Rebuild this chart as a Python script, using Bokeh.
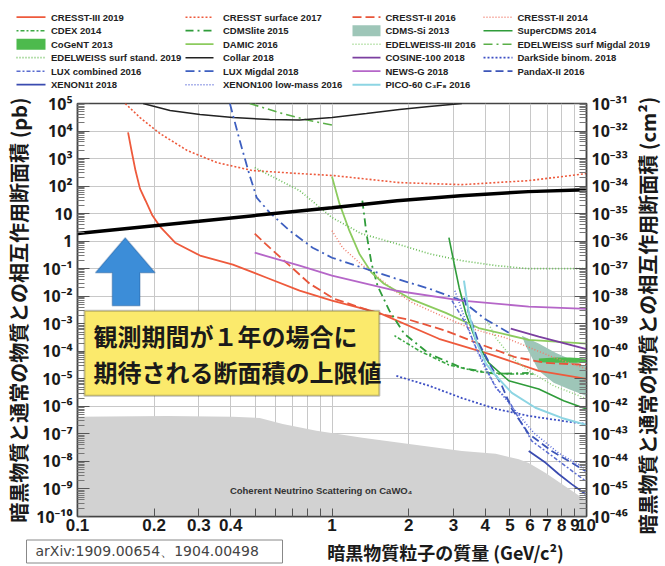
import math
from bokeh.plotting import figure
from bokeh.models import (Range1d, LogAxis, LogScale, FixedTicker, CustomJSTickFormatter,
                          Label, BoxAnnotation, PolyAnnotation)
from bokeh.layouts import column, row
from bokeh.core.properties import value
from bokeh.embed import file_html
from bokeh.resources import INLINE

# ------------------------------------------------------------------ data (mass GeV, cross section pb)
cresst3_2019_m = [0.158, 0.163, 0.169, 0.176, 0.185, 0.197, 0.211, 0.242, 0.303, 0.408, 0.554, 0.746, 1.0, 1.53, 2.63, 4.13, 6.49, 10.0]
cresst3_2019_s = [9.0e3, 1.96e3, 366, 81, 30, 8.5, 3.4, 0.88, 0.30, 0.14, 0.047, 0.016, 6.9e-3, 2.5e-3, 2.85e-4, 8.1e-5, 1.95e-5, 1.0e-5]
cresst_surf_2017_m = [0.154, 0.176, 0.211, 0.270, 0.353, 0.488, 0.746, 1.02, 1.84, 3.24, 5.93, 10.0]
cresst_surf_2017_s = [1e5, 3.1e4, 8.1e3, 1.96e3, 716, 366, 285, 240, 134, 113, 158, 285]
cresst2_2016_m = [0.497, 0.569, 0.682, 0.817, 1.02, 1.53, 2.01, 2.8, 3.77, 5.2, 6.9, 10.0]
cresst2_2016_s = [1.87, 0.58, 0.129, 0.0285, 8.1e-3, 2.3e-3, 1.4e-3, 5.6e-4, 1.9e-4, 6.3e-5, 3.8e-5, 3.2e-5]
cresst2_2014_m = [1.0, 1.1, 1.28, 1.49, 1.76, 2.07, 2.8, 3.54, 4.8, 7.5, 10.0]
cresst2_2014_s = [2.4, 0.58, 0.166, 0.056, 0.0158, 5.8e-3, 1.65e-3, 6.6e-4, 3.1e-4, 5.8e-5, 2.3e-5]
cdex_2014_m = [1.76, 2.2, 2.88, 3.78, 4.95, 6.2]
cdex_2014_s = [3.7e-4, 1.05e-4, 3.2e-5, 1.8e-5, 1.5e-5, 1.5e-5]
cdmslite_2015_m = [1.316, 1.366, 1.43, 1.51, 1.68, 1.92, 2.41, 3.24, 4.4, 5.93]
cdmslite_2015_s = [29.7, 1.9, 0.152, 0.024, 3.0e-3, 4.4e-4, 8.1e-5, 2.5e-5, 1.5e-5, 1.65e-5]
cogent_2013_m = [6.5, 7.5, 8.6, 10.0, 10.0, 8.6, 7.5, 6.5]
cogent_2013_s = [5.5e-5, 6.0e-5, 6.0e-5, 5.5e-5, 3.8e-5, 3.8e-5, 3.8e-5, 4.0e-5]
damic_2016_m = [1.0, 1.07, 1.17, 1.28, 1.43, 1.6, 2.07, 2.8, 3.77, 5.93, 10.0]
damic_2016_s = [221, 23, 2.4, 0.35, 0.072, 0.0285, 7.5e-3, 2.5e-3, 7e-4, 2.6e-4, 1.9e-4]
edw_surf_std_2019_m = [0.497, 0.746, 1.0, 1.3, 1.79, 2.41, 3.24, 4.4, 5.93, 10.0]
edw_surf_std_2019_s = [471, 68.6, 7.2, 1.9, 0.81, 0.35, 0.195, 0.13, 0.1, 0.1]
collar_2018_m = [0.181, 0.231, 0.303, 0.408, 0.569, 0.746, 1.0, 1.365, 1.84, 2.41, 3.24]
collar_2018_s = [1e5, 5.56e4, 4.0e4, 3.1e4, 2.6e4, 2.5e4, 3.1e4, 4.3e4, 6.0e4, 7.8e4, 1e5]
lux_comb_2016_m = [2.96, 3.36, 3.68, 4.03, 4.4, 4.95, 6.09, 7.77, 9.91]
lux_comb_2016_s = [6.9e-3, 1e-3, 1.35e-4, 2.5e-5, 4.7e-6, 1.6e-6, 5.6e-8, 1.05e-8, 1.95e-9]
lux_migdal_2018_m = [0.397, 0.434, 0.475, 0.506, 0.569, 0.682, 0.839, 1.0, 1.316, 1.79, 2.41, 3.24, 3.99, 4.95]
lux_migdal_2018_s = [1e5, 4.5e3, 240, 38, 10.9, 2.4, 0.58, 0.25, 0.109, 0.043, 0.0188, 6.9e-3, 1.5e-3, 4.7e-4]
xenon1t_2018_m = [5.93, 6.91, 7.77, 8.74, 9.91]
xenon1t_2018_s = [2.4e-8, 8.9e-9, 3.5e-9, 1.5e-9, 6.6e-10]
cdms_si_2013_m = [5.57, 6.49, 7.56, 8.9, 10.0, 10.0, 8.5, 7.43, 6.49, 5.77]
cdms_si_2013_s = [3.7e-4, 1.9e-4, 8.8e-5, 4.5e-5, 2.7e-5, 2.4e-6, 4.3e-6, 7.2e-6, 1.95e-5, 1.6e-4]
edw3_2016_m = [4.03, 4.4, 5.09, 5.93, 7.43, 10.0]
edw3_2016_s = [1.5e-3, 3.1e-4, 5.8e-5, 1.95e-5, 5.6e-6, 1.9e-6]
cosine_2018_m = [5.04, 6.49, 8.13, 10.0]
cosine_2018_s = [6.6e-4, 3.4e-4, 2.0e-4, 1.2e-4]
newsg_2018_m = [0.497, 0.746, 1.0, 1.79, 3.24, 5.93, 10.0]
newsg_2018_s = [0.38, 0.129, 0.056, 0.0158, 6.9e-3, 4.2e-3, 3.5e-3]
pico60_2016_m = [3.30, 3.45, 3.68, 4.03, 4.4, 5.09, 6.3, 8.0, 10.0]
pico60_2016_s = [0.0366, 2.3e-3, 2.4e-4, 3.5e-5, 1.3e-5, 3.1e-6, 8.9e-7, 3.8e-7, 2.1e-7]
supercdms_2014_m = [2.88, 3.02, 3.16, 3.36, 3.68, 4.13, 4.95, 6.49, 8.13, 10.0]
supercdms_2014_s = [1.34, 0.152, 0.0204, 2.3e-3, 2.4e-4, 3.8e-5, 8.5e-6, 4.3e-6, 1.6e-6, 8.1e-7]
edw_migdal_2019_m = [0.475, 0.64, 0.817, 1.02]
edw_migdal_2019_s = [1e5, 4.3e4, 2.4e4, 1.6e4]
darkside_2018_m = [1.79, 2.41, 3.24, 4.4, 5.93, 8.0, 10.0]
darkside_2018_s = [1.28e-5, 5.6e-6, 2.0e-6, 8.1e-7, 4.5e-7, 3.0e-7, 2.3e-7]
pandax_2016_m = [3.30, 3.52, 3.78, 4.25, 4.65, 5.09, 5.93, 7.3, 9.91]
pandax_2016_s = [8.8e-3, 1.3e-3, 1.9e-4, 2.5e-5, 5.6e-6, 8.1e-7, 1e-7, 2.4e-8, 4.5e-9]
xenon100_lm_2016_m = [3.04, 3.33, 3.64, 4.03, 4.53, 5.18, 6.2, 7.77, 10.0]
xenon100_lm_2016_s = [0.0158, 1.5e-3, 1.6e-4, 1.95e-5, 3.6e-6, 8.1e-7, 1.1e-7, 2.0e-8, 5.3e-9]
nu_floor_m = [0.1, 0.225, 0.408, 0.52, 0.64, 0.869, 1.316, 2.01, 3.24, 4.4, 5.42, 5.93, 6.91, 8.0, 10.0]
nu_floor_s = [4.2e-7, 4.5e-7, 4.2e-7, 3.8e-7, 2.3e-7, 1.3e-7, 7.2e-8, 4.3e-8, 2.4e-8, 1.9e-8, 1.2e-8, 8.8e-9, 3.8e-9, 1.5e-9, 3.7e-10]
expected_1yr_m = [0.1, 0.3, 1.0, 1.8, 3.2, 5.9, 10.0]
expected_1yr_s = [1.9, 5.3, 16.5, 29.5, 45, 63, 74]

x_ticks = [0.1, 0.2, 0.3, 0.4, 0.5, 0.6, 0.7, 0.8, 0.9, 1, 2, 3, 4, 5, 6, 7, 8, 9, 10]
y_decades = [10.0 ** k for k in range(-10, 6)]
y_minor = [m * 10.0 ** k for k in range(-10, 5) for m in range(2, 10)]
cm2_decades = [10.0 ** k for k in range(-46, -30)]
cm2_minor = [m * 10.0 ** k for k in range(-46, -31) for m in range(2, 10)]

# ------------------------------------------------------------------ styles  (name, kind, m, s, color, dash, width)
entries = [
    ("CRESST-III 2019", "line", cresst3_2019_m, cresst3_2019_s, "#EE5A3C", "solid", 1.8),
    ("CRESST surface 2017", "line", cresst_surf_2017_m, cresst_surf_2017_s, "#EE5A3C", "2 2", 1.6),
    ("CRESST-II 2016", "line", cresst2_2016_m, cresst2_2016_s, "#E8553A", "9 4", 1.8),
    ("CRESST-II 2014", "line", cresst2_2014_m, cresst2_2014_s, "#F07C6C", "1 2", 1.5),
    ("CDEX 2014", "line", cdex_2014_m, cdex_2014_s, "#3DAA45", "2 2 4 2", 1.6),
    ("CDMSlite 2015", "line", cdmslite_2015_m, cdmslite_2015_s, "#2F9C3A", "8 4 2 4", 1.8),
    ("CDMS-Si 2013", "band", cdms_si_2013_m, cdms_si_2013_s, "#9EC6B8", None, 0),
    ("SuperCDMS 2014", "line", supercdms_2014_m, supercdms_2014_s, "#2F9C3A", "solid", 1.6),
    ("CoGeNT 2013", "band", cogent_2013_m, cogent_2013_s, "#4DBA4D", None, 0),
    ("DAMIC 2016", "line", damic_2016_m, damic_2016_s, "#8CCB5E", "solid", 1.8),
    ("EDELWEISS-III 2016", "line", edw3_2016_m, edw3_2016_s, "#8FD07A", "1 2", 1.5),
    ("EDELWEISS surf Migdal 2019", "line", edw_migdal_2019_m, edw_migdal_2019_s, "#5AAF48", "9 4 2 4", 1.6),
    ("EDELWEISS surf stand. 2019", "line", edw_surf_std_2019_m, edw_surf_std_2019_s, "#6DBE5B", "1 2", 1.7),
    ("Collar 2018", "line", collar_2018_m, collar_2018_s, "#222222", "solid", 1.5),
    ("COSINE-100 2018", "line", cosine_2018_m, cosine_2018_s, "#7B3FA0", "solid", 1.8),
    ("DarkSide binom. 2018", "line", darkside_2018_m, darkside_2018_s, "#3D4FC4", "2 2", 1.8),
    ("LUX combined 2016", "line", lux_comb_2016_m, lux_comb_2016_s, "#5A6CD0", "4 2 2 2", 1.5),
    ("LUX Migdal 2018", "line", lux_migdal_2018_m, lux_migdal_2018_s, "#3D5FC0", "9 4 2 4", 1.8),
    ("NEWS-G 2018", "line", newsg_2018_m, newsg_2018_s, "#B566C8", "solid", 1.8),
    ("PandaX-II 2016", "line", pandax_2016_m, pandax_2016_s, "#3D55B8", "8 4", 1.8),
    ("XENON1t 2018", "line", xenon1t_2018_m, xenon1t_2018_s, "#3A4BB0", "solid", 1.8),
    ("XENON100 low-mass 2016", "line", xenon100_lm_2016_m, xenon100_lm_2016_s, "#5A6AD8", "1 2", 1.6),
    ("PICO-60 C\u2083F\u2088 2016", "line", pico60_2016_m, pico60_2016_s, "#8DD5E3", "solid", 2.0),
]

FONT = "Liberation Sans"
JP = "Noto Sans CJK JP"
W = 664
LEG_H = 92          # legend strip
MAIN_W = 630        # main figure width (right title strip follows)
MAIN_H = 446        # 11 + 413 + 22
RS_W = W - MAIN_W   # right title strip
BOT_H = 27          # bottom strip


def no_align(fig):
    try:
        fig.frame_align = False
    except Exception:
        pass


def strip(w, h):
    f = figure(frame_width=w, frame_height=h, x_range=Range1d(0, w), y_range=Range1d(h, 0),
               output_backend="svg", toolbar_location=None, title=None,
               x_axis_location=None, y_axis_location=None, min_border=0)
    f.grid.visible = False
    f.outline_line_color = None
    no_align(f)
    return f


# ------------------------------------------------------------------ legend panel (top strip)
lg = strip(W, LEG_H)
col_sw0 = [16, 185, 352, 483]
col_sw1 = [45, 213, 380, 512]
col_txt = [50.5, 222.5, 385, 517]
row_y0, row_dy = 16.7, 13.5

tx, ty, tt = [], [], []
for i, (name, kind, m, s, color, dash, w) in enumerate(entries):
    r, c = divmod(i, 4)
    y = row_y0 + r * row_dy
    if kind == "band":
        lg.quad(left=col_sw0[c], right=col_sw1[c], top=y - 5.5, bottom=y + 5.5, fill_color=color, line_color=None)
    else:
        lg.line([col_sw0[c], col_sw1[c]], [y, y], line_color=color, line_dash=dash, line_width=w)
    tx.append(col_txt[c]); ty.append(y); tt.append(name)
lg.text(x=tx, y=ty, text=tt, text_font=value(FONT), text_font_style="bold",
        text_font_size="9.5px", text_baseline="middle", text_color="#222222")

# ------------------------------------------------------------------ main plot
p = figure(width=MAIN_W, height=MAIN_H, x_axis_type="log", y_axis_type="log",
           x_range=Range1d(0.1, 10), y_range=Range1d(1e-10, 1e5),
           output_backend="svg", toolbar_location=None, title=None,
           min_border_left=77, min_border_right=MAIN_W - 77 - 511, min_border_top=11, min_border_bottom=22)
p.background_fill_color = "white"
p.outline_line_color = "#444444"
p.outline_line_width = 1.5
no_align(p)

p.xgrid.ticker = FixedTicker(ticks=x_ticks)
p.ygrid.ticker = FixedTicker(ticks=y_decades)
p.grid.grid_line_color = "#C8C8C8"
p.grid.grid_line_width = 1

# coherent neutrino scattering floor
p.varea(x=nu_floor_m, y1=[1e-10] * len(nu_floor_m), y2=nu_floor_s, fill_color="#D2D2D2")

for name, kind, m, s, color, dash, w in entries:
    if kind == "band":
        p.patch(m, s, fill_color=color, line_color=None)
for name, kind, m, s, color, dash, w in entries:
    if kind == "line":
        p.line(m, s, line_color=color, line_dash=dash, line_width=w)

p.line(expected_1yr_m, expected_1yr_s, line_color="black", line_width=3.5)

sup_js = """
const e = Math.round(Math.log10(tick));
if (e === 0) { return "1"; }
if (e === 1) { return "10"; }
const sup = {"-": "⁻", "0": "⁰", "1": "¹", "2": "²", "3": "³", "4": "⁴", "5": "⁵", "6": "⁶", "7": "⁷", "8": "⁸", "9": "⁹"};
return "10" + String(e).split("").map(function (c) { return sup[c]; }).join("");
"""


def style_axis(ax):
    ax.axis_line_color = "#444444"
    ax.axis_line_width = 1.5
    ax.major_tick_in = 12
    ax.major_tick_out = 0
    ax.minor_tick_in = 7
    ax.minor_tick_out = 0
    ax.major_tick_line_color = "#555555"
    ax.minor_tick_line_color = "#777777"
    ax.major_label_text_font_style = "bold"
    ax.major_label_text_color = "#1a1a1a"
    ax.axis_label_text_font = JP
    ax.axis_label_text_font_style = "bold"
    ax.axis_label_text_font_size = "20px"
    ax.axis_label_text_color = "#1a1a1a"
    ax.axis_label_standoff = 0


xa = p.xaxis[0]
xa.ticker = FixedTicker(ticks=x_ticks)
xa.formatter = CustomJSTickFormatter(code="""
if (tick > 0.45 && tick < 0.95) { return ""; }
return String(Number(tick.toPrecision(2)));
""")
style_axis(xa)
xa.major_tick_in = 8
xa.major_label_text_font = FONT
xa.major_label_text_font_size = "17px"
xa.major_label_standoff = 2

ya = p.yaxis[0]
ya.ticker = FixedTicker(ticks=y_decades, minor_ticks=y_minor)
ya.formatter = CustomJSTickFormatter(code=sup_js)
style_axis(ya)
ya.major_label_text_font = "Noto Sans"
ya.major_label_text_font_size = "16px"
ya.major_label_standoff = 5
ya.axis_label = "暗黒物質と通常の物質との相互作用断面積 (pb)"

p.extra_y_ranges = {"cm2": Range1d(1e-46, 1e-31)}
p.extra_y_scales = {"cm2": LogScale()}
ra = LogAxis(y_range_name="cm2")
ra.ticker = FixedTicker(ticks=cm2_decades, minor_ticks=cm2_minor)
ra.formatter = CustomJSTickFormatter(code=sup_js)
style_axis(ra)
ra.major_label_text_font = "Noto Sans"
ra.major_label_text_font_size = "16px"
ra.major_label_standoff = 5
p.add_layout(ra, "right")

p.add_layout(Label(x=0.397, y=8.5e-10, text="Coherent Neutrino Scattering on CaWO₄",
                   text_baseline="middle", text_font=FONT, text_font_style="bold",
                   text_font_size="9.5px", text_color="#333333"))

# annotation: arrow + yellow box
arrow_xs = [0.154, 0.202, 0.176, 0.176, 0.137, 0.137, 0.1176]
arrow_ys = [1.34, 0.0716, 0.0716, 4.5e-3, 4.5e-3, 0.0716, 0.0716]
p.add_layout(PolyAnnotation(xs=arrow_xs, ys=arrow_ys, fill_color="#3C8DD8", fill_alpha=1,
                            line_color="#1D4F8C", line_width=1.5))
p.add_layout(BoxAnnotation(left=0.1065, right=1.535, top=2.97e-3, bottom=2.41e-6,
                           fill_color="#FBEA6C", fill_alpha=1, line_color="#333333", line_width=2))
p.add_layout(Label(x=0.1155, y=3.66e-4, text="観測期間が１年の場合に", text_baseline="middle",
                   text_font=JP, text_font_style="bold", text_font_size="24px", text_color="#1a1a1a"))
p.add_layout(Label(x=0.1155, y=1.8e-5, text="期待される断面積の上限値", text_baseline="middle",
                   text_font=JP, text_font_style="bold", text_font_size="24px", text_color="#1a1a1a"))

# ------------------------------------------------------------------ right title strip (reads bottom to top)
rs = strip(RS_W, MAIN_H)
rs.text(x=[RS_W / 2], y=[315 - LEG_H], text=["暗黒物質と通常の物質との相互作用断面積 (cm²)"],
        angle=math.pi / 2, text_font=value(JP), text_font_style="bold", text_font_size="20px",
        text_align="center", text_baseline="middle", text_color="#1a1a1a")

# ------------------------------------------------------------------ bottom strip: x title + reference box
bt = strip(W, BOT_H)
bt.quad(left=[26], right=[282], top=[1.5], bottom=[BOT_H - 2.5], fill_color="white",
        line_color="#888888", line_width=1)
bt.text(x=[35], y=[12.5], text=["arXiv:1909.00654、1904.00498"], text_font=value("DejaVu Sans"),
        text_font_size="14px", text_baseline="middle", text_color="#444444")
bt.text(x=[445], y=[13.5], text=["暗黒物質粒子の質量 (GeV/c²)"], text_font=value(JP),
        text_font_style="bold", text_font_size="18px", text_align="center", text_baseline="middle",
        text_color="#1a1a1a")

layout = column(lg, row(p, rs), bt)
open("out.html", "w").write(file_html(layout, INLINE))
